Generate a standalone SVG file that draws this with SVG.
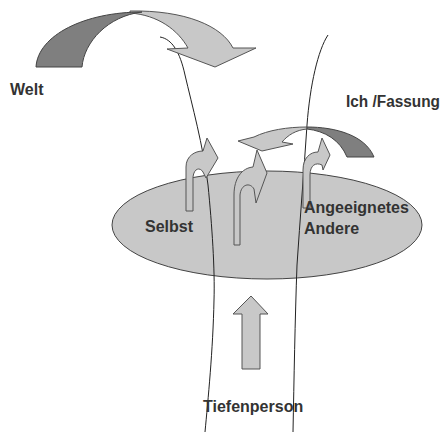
<svg xmlns="http://www.w3.org/2000/svg" width="443" height="432" viewBox="0 0 443 432">
<style>
.lbl{font-family:"Liberation Sans",Arial,sans-serif;font-weight:bold;font-size:16px;fill:#333}
.light{fill:#c8c8c8;stroke:#555;stroke-width:1;stroke-linejoin:round}
.dark{fill:#7f7f7f;stroke:#444;stroke-width:1;stroke-linejoin:round}
.line{fill:none;stroke:#222;stroke-width:1}
</style>
<rect width="443" height="432" fill="#fff"/>
<g id="ellipse-node">
<ellipse cx="267" cy="225" rx="155" ry="54" fill="#c8c8c8" stroke="#444" stroke-width="1"/>
</g>
<g id="connectors">
<path class="line" d="M160,37 C172,39 180,52 185,75 C192,105 203,145 208,185 C212,225 215,270 214,300 C213,350 208,400 205,432"/>
<path class="line" d="M328,35 C318,50 310,85 307,125 C304,170 300,220 297,265 C295,320 294,380 293,432"/>
</g>
<g id="welt-arrow">
<path class="light" d="M130,11 C185,10 222,26 233,48 L256,48 L215,67 L167,49 L188,48 C178,30 158,15 130,13 Z"/>
<path class="dark" d="M36,67 C38,35 85,12 142,12 C108,16 84,42 82,67 Z"/>
</g>
<g id="fassung-arrow">
<path class="light" d="M238,141 L254,137 C268,130 288,127 307,127 L307,129 C296,130 288,135 282,142 L293,144 L262,151 Z"/>
<path class="dark" d="M307,127 C335,127 365,135 374,157 L347,157 C340,140 325,131 307,129 Z"/>
</g>
<g id="arrow-selbst">
<path class="light" d="M186,211 L186,167 C186,156 195,151 203,151 L207,138 L218,158 L206,178 L203,172 C200,167 194,168 193,177 L193,211 Z"/>
</g>
<g id="arrow-middle">
<path class="light" d="M234,245 L234,195 C234,178 242,168 253,167 L257,150 L267,173 L256,203 L254,189 C250,182 241,184 240,195 L240,245 Z"/>
</g>
<g id="arrow-andere">
<path class="light" d="M303,208 L303,170 C303,158 310,152 318,152 L322,138 L330,155 L323,170 L322,165 C316,162 310,165 310,175 L310,208 Z"/>
</g>
<g id="arrow-tiefe">
<path class="light" d="M251,296 L268,314 L260,314 L260,369 L242,369 L242,314 L233,314 Z"/>
</g>
<g id="labels">
<text class="lbl" x="10" y="95">Welt</text>
<text class="lbl" x="346" y="107" textLength="94" lengthAdjust="spacingAndGlyphs">Ich /Fassung</text>
<text class="lbl" x="145" y="232">Selbst</text>
<text class="lbl" x="304" y="213">Angeeignetes</text>
<text class="lbl" x="304" y="234">Andere</text>
<text class="lbl" x="203" y="412">Tiefenperson</text>
</g>
</svg>
